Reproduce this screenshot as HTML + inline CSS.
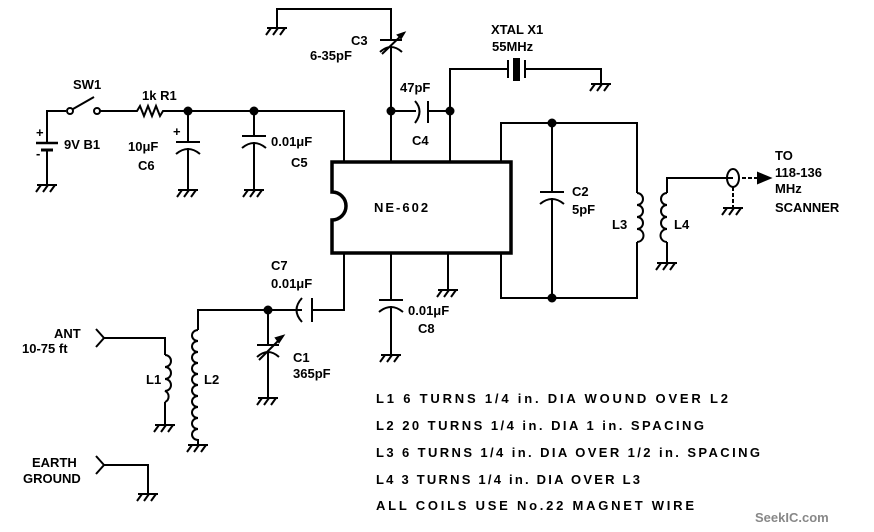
<!DOCTYPE html>
<html><head><meta charset="utf-8"><style>
body{margin:0;background:#fff}
svg{display:block}
text{font-family:"Liberation Sans",sans-serif;font-weight:bold;font-size:13px;fill:#000}
</style></head><body>
<svg width="874" height="532" viewBox="0 0 874 532" xmlns="http://www.w3.org/2000/svg">
<defs>
<g id="g"><path d="M-10,0H10M-6,0L-11,7M1,0L-4,7M8,0L3,7" stroke="#000" stroke-width="2" fill="none"/></g>
</defs>
<g stroke="#000" stroke-width="2" fill="none">
<!-- battery -->
<path d="M47,185V150M47,143V111H66"/>
<path d="M36,143H58" stroke-width="2.5"/><path d="M41,150H53" stroke-width="3"/>
<circle cx="70" cy="111" r="3"/><circle cx="97" cy="111" r="3"/>
<path d="M73,109L94,97"/>
<path d="M100,111H137l3,-5 4,10 4,-10 4,10 4,-10 4,10 3,-5H344V162"/>
<!-- C6 -->
<path d="M188,111V142M176,142H200M176,154Q188,144 200,154M188,148V190"/>
<!-- C5 -->
<path d="M254,111V136M242,136H266M242,148Q254,138 266,148M254,142V190"/>
<!-- C3 -->
<path d="M277,28V9H391V40M380,40H402M380,52Q391,42 402,52M391,46V162M382,54L404,33"/>
<path d="M404,33l-6,2 3,3z" fill="#000"/>
<!-- C4 -->
<path d="M391,111H416M415,101Q424,111 415,123M428,101V123M428,111H450V162M450,111V69H508M508,60V78M525,60V78M525,69H601V83"/>
<rect x="513" y="58" width="7" height="23" fill="#000" stroke="none"/>
<!-- IC -->
<path d="M332,162H511V253H332V220A8,8 0 0 0 332,192Z" stroke-width="3.5"/>
<!-- tank -->
<path d="M501,162V123H637V193M637,242V298H501V253M552,123V192M540,192H564M540,204Q552,194 564,204M552,198V298"/>
<path d="M637,193a6,6 0 0 1 0,12a6,6 0 0 1 0,12a6,6 0 0 1 0,12a6,6 0 0 1 0,13"/>
<!-- L4 -->
<path d="M667,262V242M667,193V178H733"/>
<path d="M667,193a6,6 0 0 0 0,12a6,6 0 0 0 0,12a6,6 0 0 0 0,12a6,6 0 0 0 0,13"/>
<ellipse cx="733" cy="178" rx="6" ry="9"/>
<path d="M733,187V208M742,178H760" stroke-dasharray="4,2"/>
<path d="M758,173L770,178L758,183Z" fill="#000"/>
<!-- bottom -->
<path d="M344,253V310H312M312,298V322M302,298Q291,310 302,322M302,310H198V330M391,253V300M379,300H403M379,312Q391,302 403,312M391,306V355M448,253V290"/>
<path d="M198,330a6,5.5 0 0 0 0,11a6,5.5 0 0 0 0,11a6,5.5 0 0 0 0,11a6,5.5 0 0 0 0,11a6,5.5 0 0 0 0,11a6,5.5 0 0 0 0,11a6,5.5 0 0 0 0,11a6,5.5 0 0 0 0,11a6,5.5 0 0 0 0,11a6,5.5 0 0 0 0,11V445"/>
<!-- C1 -->
<path d="M268,310V345M257,345H279M257,357Q268,347 279,357M268,351V398M259,360L281,338"/>
<path d="M283,336l-7,2 3,4z" fill="#000"/>
<!-- ANT -->
<path d="M96,329L104,338L96,347M104,338H165V355M165,402V425"/>
<path d="M165,355a6,6 0 0 1 0,12a6,6 0 0 1 0,12a6,6 0 0 1 0,12a6,6 0 0 1 0,11"/>
<path d="M96,456L104,465L96,474M104,465H148V493"/>
</g>
<g fill="#000">
<circle cx="188" cy="111" r="4.5"/><circle cx="254" cy="111" r="4.5"/><circle cx="391" cy="111" r="4.5"/><circle cx="450" cy="111" r="4.5"/>
<circle cx="552" cy="123" r="4.5"/><circle cx="552" cy="298" r="4.5"/><circle cx="268" cy="310" r="4.5"/>
</g>
<use href="#g" x="47" y="185"/><use href="#g" x="188" y="190"/><use href="#g" x="254" y="190"/>
<use href="#g" x="277" y="28"/><use href="#g" x="601" y="84"/><use href="#g" x="667" y="263"/>
<use href="#g" x="733" y="208"/><use href="#g" x="391" y="355"/><use href="#g" x="448" y="290"/>
<use href="#g" x="268" y="398"/><use href="#g" x="198" y="445"/><use href="#g" x="165" y="425"/><use href="#g" x="148" y="494"/>
<g>
<text x="73" y="89">SW1</text>
<text x="142" y="100">1k R1</text>
<text x="36" y="137">+</text><text x="36" y="158">-</text>
<text x="64" y="149">9V B1</text>
<text x="173" y="136">+</text>
<text x="128" y="151">10μF</text><text x="138" y="170">C6</text>
<text x="271" y="146">0.01μF</text><text x="291" y="167">C5</text>
<text x="351" y="45">C3</text><text x="310" y="60">6-35pF</text>
<text x="400" y="92">47pF</text><text x="412" y="145">C4</text>
<text x="491" y="34">XTAL X1</text><text x="492" y="51">55MHz</text>
<text x="374" y="212" font-size="14" letter-spacing="2">NE-602</text>
<text x="572" y="196">C2</text><text x="572" y="214">5pF</text>
<text x="612" y="229">L3</text><text x="674" y="229">L4</text>
<text x="775" y="160">TO</text><text x="775" y="177">118-136</text><text x="775" y="193">MHz</text><text x="775" y="212">SCANNER</text>
<text x="271" y="270">C7</text><text x="271" y="288">0.01μF</text>
<text x="408" y="315">0.01μF</text><text x="418" y="333">C8</text>
<text x="293" y="362">C1</text><text x="293" y="378">365pF</text>
<text x="54" y="338">ANT</text><text x="22" y="353">10-75 ft</text>
<text x="146" y="384">L1</text><text x="204" y="384">L2</text>
<text x="32" y="467">EARTH</text><text x="23" y="483">GROUND</text>
<text x="376" y="403" textLength="352">L1  6 TURNS 1/4 in. DIA  WOUND OVER  L2</text>
<text x="376" y="430" textLength="328">L2  20 TURNS 1/4 in. DIA  1 in. SPACING</text>
<text x="376" y="457" textLength="384">L3  6 TURNS 1/4 in. DIA OVER 1/2 in. SPACING</text>
<text x="376" y="484" textLength="264">L4  3 TURNS 1/4 in. DIA  OVER  L3</text>
<text x="376" y="510" textLength="318">ALL COILS USE No.22 MAGNET WIRE</text>
<text x="755" y="522" font-size="17" style="fill:#888">SeekIC.com</text>
</g>
</svg>
</body></html>
